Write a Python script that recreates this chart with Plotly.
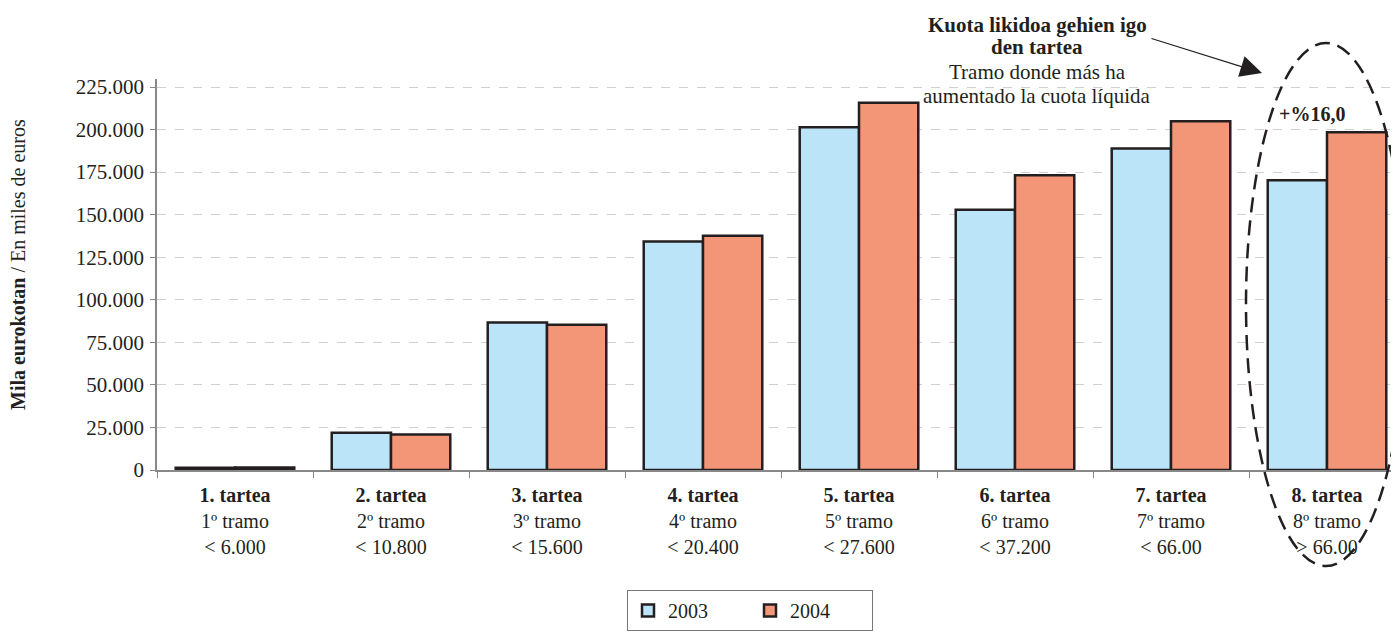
import plotly.graph_objects as go

categories = ["1. tartea", "2. tartea", "3. tartea", "4. tartea",
              "5. tartea", "6. tartea", "7. tartea", "8. tartea"]
tramos = ["1º tramo", "2º tramo", "3º tramo", "4º tramo",
          "5º tramo", "6º tramo", "7º tramo", "8º tramo"]
limits = ["< 6.000", "< 10.800", "< 15.600", "< 20.400",
          "< 27.600", "< 37.200", "< 66.00", "> 66.00"]
v2003 = [1300, 21950, 86650, 134300, 201400, 152900, 188800, 170200]
v2004 = [1400, 20800, 85300, 137600, 215700, 173100, 204900, 198400]
ytickvals = [0, 25000, 50000, 75000, 100000, 125000, 150000, 175000, 200000, 225000]
yticktext = ["0", "25.000", "50.000", "75.000", "100.000", "125.000",
             "150.000", "175.000", "200.000", "225.000"]
callout_lines = ["<b>Kuota likidoa gehien igo</b>", "<b>den tartea</b>",
                 "Tramo donde más ha", "aumentado la cuota líquida"]

FONT = "Liberation Serif"
TXT = "#231F20"
BLUE = "#BBE4F8"
ORANGE = "#F39677"
GRID = "#D0D0D0"

# page pixel -> paper coordinate helpers (plot area: x 157..1405, y 0 at 470, 391 px high)
def px(x):
    return (x - 157) / 1248

def py(y):
    return (470 - y) / 391

ticktext = [f"<b>{c}</b><br>{t}<br>{l}" for c, t, l in zip(categories, tramos, limits)]

fig = go.Figure()
fig.add_trace(go.Bar(name="2003", x=categories, y=v2003,
                     marker=dict(color=BLUE, line=dict(color=TXT, width=2.5))))
fig.add_trace(go.Bar(name="2004", x=categories, y=v2004,
                     marker=dict(color=ORANGE, line=dict(color=TXT, width=2.5))))

fig.update_layout(
    width=1399, height=636,
    margin=dict(l=149, r=2, t=71, b=174),
    paper_bgcolor="white", plot_bgcolor="white",
    barmode="group", bargap=0.24, bargroupgap=0,
    font=dict(family=FONT, size=20, color=TXT),
    showlegend=True,
    legend=dict(orientation="h", x=px(750), xanchor="center", y=py(590), yanchor="top",
                bordercolor="#777777", borderwidth=1, bgcolor="white",
                font=dict(family=FONT, size=20, color=TXT),
                tracegroupgap=0, entrywidth=77),
)
fig.update_xaxes(
    type="category", tickmode="array", tickvals=categories, ticktext=ticktext,
    tickson="boundaries", ticks="outside", ticklen=6, tickcolor="#888888",
    showline=True, linecolor="#888888", linewidth=1.5, showgrid=False,
    ticklabelstandoff=6,
    tickfont=dict(family=FONT, size=20, color=TXT),
)
fig.update_yaxes(
    range=[0, 229700], tickmode="array", tickvals=ytickvals, ticktext=yticktext,
    ticks="outside", ticklen=5, tickcolor="#888888",
    showline=True, linecolor="#888888", linewidth=1.5,
    showgrid=True, gridcolor=GRID, griddash="dash", gridwidth=1,
    zeroline=False, ticklabelstandoff=2,
    tickfont=dict(family=FONT, size=21, color=TXT),
)

# y-axis title
fig.add_annotation(xref="paper", yref="paper", x=px(18), y=py(265),
                   text="<b>Mila eurokotan</b> / En miles de euros", textangle=-90,
                   showarrow=False, font=dict(family=FONT, size=20, color=TXT),
                   xanchor="center", yanchor="middle")

# callout text, one line each
for line, yc in zip(callout_lines, [25, 47, 72, 96]):
    fig.add_annotation(xref="paper", yref="paper", x=px(1037), y=py(yc),
                       text=line, showarrow=False,
                       font=dict(family=FONT, size=21, color=TXT),
                       xanchor="center", yanchor="middle")

# arrow
fig.add_annotation(xref="paper", yref="paper", x=px(1262), y=py(73),
                   ax=-112, ay=-35, text="", showarrow=True,
                   arrowhead=2, arrowsize=3.6, arrowwidth=1.2, arrowcolor=TXT)

# +16% label
fig.add_annotation(x=7, y=v2004[7], xref="x", yref="y", xshift=-15, yshift=5,
                   text="<b>+%16,0</b>", showarrow=False, yanchor="bottom",
                   font=dict(family=FONT, size=20, color=TXT))

# dashed ellipse
fig.add_shape(type="circle", xref="paper", yref="paper",
              x0=px(1246), x1=px(1406), y0=py(566), y1=py(43),
              line=dict(color=TXT, width=2.5, dash="15px,8px"), layer="above")

fig.write_html("out.html")
